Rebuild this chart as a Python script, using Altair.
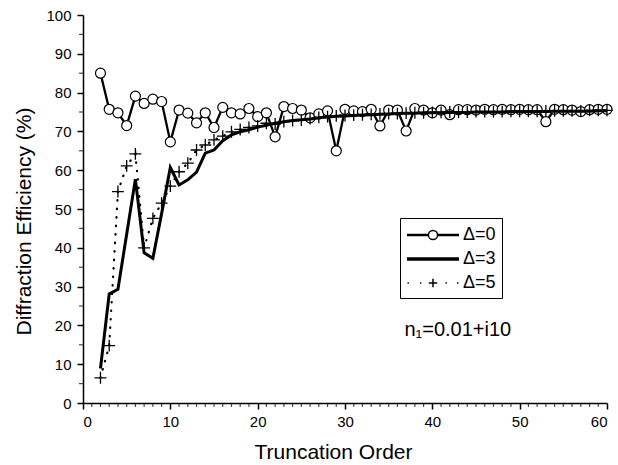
import altair as alt
import pandas as pd

FONT = "Liberation Sans"

orders = list(range(2, 61))

delta0 = [85.0, 75.7, 74.8, 71.5, 79.1, 77.2, 78.3, 77.7, 67.3, 75.5,
          74.7, 72.2, 74.8, 71.0, 76.2, 74.8, 74.5, 75.9, 73.8, 74.8,
          68.6, 76.4, 75.9, 75.5, 73.5, 74.5, 75.3, 65.0, 75.7, 75.3,
          75.1, 75.7, 71.4, 75.5, 75.5, 70.1, 75.9, 75.5, 74.8, 75.5,
          74.3, 75.6, 75.6, 75.5, 75.7, 75.6, 75.7, 75.6, 75.7, 75.6,
          75.6, 72.5, 75.7, 75.6, 75.5, 75.1, 75.6, 75.7, 75.7]

delta3 = [8.9, 28.1, 29.3, 43.5, 57.7, 38.7, 37.3, 48.8, 60.7, 56.2,
          57.5, 59.5, 64.4, 65.2, 67.6, 69.1, 69.9, 70.4, 71.1, 71.6,
          72.1, 72.5, 72.8, 73.0, 73.2, 73.5, 73.7, 73.9, 74.0, 74.1,
          74.2, 74.3, 74.4, 74.5, 74.6, 74.7, 74.7, 74.8, 74.8, 74.8,
          74.9, 74.9, 74.9, 75.0, 75.0, 75.0, 75.0, 75.1, 75.1, 75.1,
          75.1, 75.1, 75.2, 75.2, 75.2, 75.2, 75.2, 75.3, 75.3]

delta5 = [6.5, 14.8, 54.5, 61.1, 64.2, 40.0, 47.6, 51.5, 55.9, 59.6,
          61.8, 65.2, 66.5, 67.8, 68.8, 69.9, 70.5, 71.0, 71.4, 72.1,
          71.9, 72.5, 72.8, 72.9, 73.3, 73.6, 73.8, 74.0, 74.1, 74.2,
          74.3, 74.4, 74.5, 74.6, 74.6, 74.7, 74.8, 74.8, 74.9, 74.9,
          75.0, 75.0, 75.0, 75.1, 75.1, 75.1, 75.1, 75.2, 75.2, 75.2,
          75.2, 75.3, 75.3, 75.3, 75.3, 75.3, 75.4, 75.4, 75.4]

series_names = ["\u0394=0", "\u0394=3", "\u0394=5"]

x_major = [0, 10, 20, 30, 40, 50, 60]
x_minor = [i for i in range(0, 61) if i % 10 != 0]
y_major = [0, 10, 20, 30, 40, 50, 60, 70, 80, 90, 100]
y_minor = [5, 15, 25, 35, 45, 55, 65, 75, 85, 95]

x_title = "Truncation Order"
y_title = "Diffraction Efficiency (%)"

note_text = ["n\u2081=0.01+i10"]
note_x = [36.8]
note_y = [17.3]

df0 = pd.DataFrame({"order": orders, "eff": delta0})
df3 = pd.DataFrame({"order": orders, "eff": delta3})
df5 = pd.DataFrame({"order": orders, "eff": delta5})
df_xminor = pd.DataFrame({"order": x_minor})
df_yminor = pd.DataFrame({"eff": y_minor})
df_note = pd.DataFrame({"t": note_text, "order": note_x, "eff": note_y})
df_leg = pd.DataFrame({"series": series_names})

xscale = alt.Scale(domain=[0, 60], nice=False, zero=False)
yscale = alt.Scale(domain=[0, 100], nice=False, zero=False)

xaxis = alt.Axis(values=x_major, format="d", tickSize=6, tickWidth=1.5,
                 domainWidth=1.5, domainColor="black", tickColor="black",
                 labelFontSize=15, labelColor="black", labelFont=FONT,
                 labelPadding=5, title=x_title, titleFontSize=21,
                 titleFont=FONT, titleFontWeight="normal", titleColor="black",
                 titlePadding=12, titleX=250, grid=False, labelOverlap=False)
yaxis = alt.Axis(values=y_major, format="d", tickSize=6, tickWidth=1.5,
                 domainWidth=1.5, domainColor="black", tickColor="black",
                 labelFontSize=15, labelColor="black", labelFont=FONT,
                 labelPadding=6, title=y_title, titleFontSize=21,
                 titleFont=FONT, titleFontWeight="normal", titleColor="black",
                 titlePadding=11, titleY=206, grid=False, labelOverlap=False)

X = alt.X("order:Q", scale=xscale, axis=xaxis, title=x_title)
Y = alt.Y("eff:Q", scale=yscale, axis=yaxis, title=y_title)

line0 = alt.Chart(df0).mark_line(color="black", strokeWidth=2.3).encode(x=X, y=Y)
pts0 = alt.Chart(df0).mark_point(shape="circle", size=100, filled=True,
                                 fill="white", stroke="black",
                                 strokeWidth=1.2, opacity=1).encode(x=X, y=Y)
line3 = alt.Chart(df3).mark_line(color="black", strokeWidth=3).encode(x=X, y=Y)
line5 = alt.Chart(df5).mark_line(color="black", strokeWidth=2.2,
                                 strokeDash=[0.5, 8], strokeCap="round").encode(x=X, y=Y)
pts5 = alt.Chart(df5).mark_point(shape="M-1,0H1M0,-1V1", size=140,
                                 filled=False, stroke="black",
                                 strokeWidth=1.3, opacity=1).encode(x=X, y=Y)

xminor = alt.Chart(df_xminor).mark_tick(orient="vertical", size=4, thickness=1.2,
                                        color="black", yOffset=2).encode(
    x=X, y=alt.datum(0, scale=yscale, axis=yaxis, title=y_title))
yminor = alt.Chart(df_yminor).mark_tick(orient="horizontal", size=4, thickness=1.2,
                                        color="black", xOffset=-2).encode(
    y=Y, x=alt.datum(0, scale=xscale, axis=xaxis, title=x_title))

# legend symbols (custom paths, unit = 10 px; drawn 52 px wide)
p0 = ("M-2.6,0.06H-0.46M0.46,0.06H2.6M-2.6,-0.06H-0.46M0.46,-0.06H2.6"
      "M0.46,0A0.46,0.46 0 1,1 -0.46,0A0.46,0.46 0 1,1 0.46,0Z")
p3 = "M-2.6,0H2.6M-2.6,0.09H2.6M-2.6,-0.09H2.6"
p5 = ("M-2.55,0h0.14M-1.3,0h0.14M1.25,0h0.14M2.4,0h0.14"
      "M-0.42,0H0.42M0,-0.42V0.42")

legend_layer = alt.Chart(df_leg).mark_point(filled=False, color="black",
                                            strokeWidth=1.5, opacity=1).encode(
    shape=alt.Shape("series:N",
                    scale=alt.Scale(domain=series_names, range=[p0, p3, p5]),
                    legend=alt.Legend(orient="none", legendX=317, legendY=203,
                                      title=None, symbolSize=400,
                                      symbolOffset=16, labelOffset=19,
                                      labelFontSize=18, labelFont=FONT,
                                      labelColor="black",
                                      padding=6, strokeColor="black",
                                      rowPadding=4,
                                      symbolStrokeWidth=1.5,
                                      symbolStrokeColor="black",
                                      symbolOpacity=1))
).transform_filter("false")

note = alt.Chart(df_note).mark_text(align="left", baseline="alphabetic",
                                    fontSize=20, font=FONT, color="black").encode(
    x=X, y=Y, text="t:N")

chart = alt.layer(line0, pts0, line3, line5, pts5, xminor, yminor,
                  legend_layer, note).properties(
    width=524, height=388,
    autosize=alt.AutoSizeParams(type="none"),
    padding={"left": 83, "top": 15, "right": 11, "bottom": 62},
    background="white",
).configure_view(stroke=None)

chart.save("out.html", embed_options={"renderer": "svg", "actions": False})
